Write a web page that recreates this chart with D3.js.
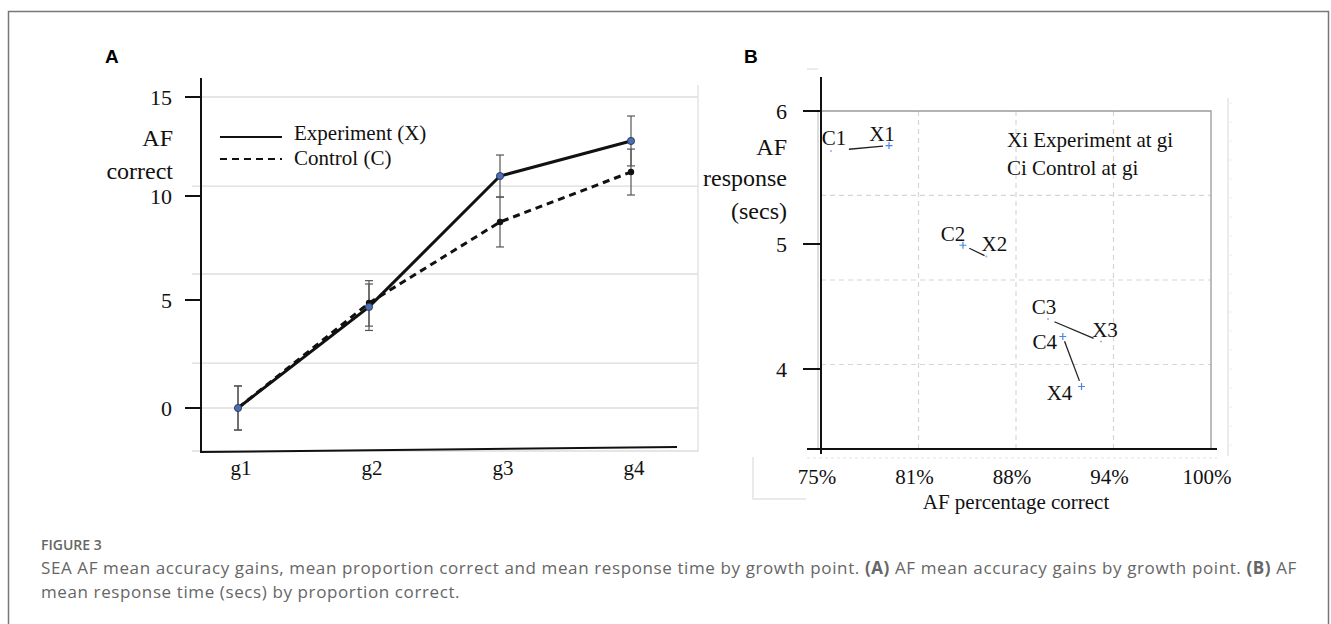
<!DOCTYPE html>
<html>
<head>
<meta charset="utf-8">
<script src="https://cdn.jsdelivr.net/npm/d3@7"></script>
<style>
  body { margin: 0; background: #fff; }
  .serif { font-family: "Liberation Serif", "Times New Roman", serif; fill: #111; }
</style>
</head>
<body>
<script>
// ---- panel A data: AF correct by growth point ----
var growthPoints = ["g1", "g2", "g3", "g4"];
var expMeans  = [0, 4.68, 11.01, 12.78];
var ctrlMeans = [0, 4.86, 8.75, 11.21];
var expErr    = [1.02, 1.09, 1.06, 1.26];
var ctrlErr   = [1.02, 1.07, 1.2, 1.16];
var yTicksA   = [0, 5, 10, 15];
var gridA     = [15, 10.5, 6.25, 2.08, 0, -1.99];

// ---- panel B data: response time by percentage correct ----
var ctrlPct  = [0.7564, 0.841, 0.8955, 0.905];
var ctrlSecs = [5.70, 4.99, 4.40, 4.26];
var expPct   = [0.7936, 0.856, 0.9295, 0.917];
var expSecs  = [5.74, 4.90, 4.22, 3.86];
var ctrlNames = ["C1", "C2", "C3", "C4"];
var expNames  = ["X1", "X2", "X3", "X4"];
var ctrlShape = ["dot", "plus", "dot", "plus"];
var expShape  = ["plus", "dot", "dot", "plus"];
var xTicksB = [0.75, 0.8125, 0.875, 0.9375, 1];
var xTickLabelsB = ["75%", "81%", "88%", "94%", "100%"];
var yTicksB = [4, 5, 6];
var gridYB = [5.365, 4.712, 4.036];

var width = 1331, height = 624;

var svg = d3.select("body").append("svg")
    .attr("width", width)
    .attr("height", height);

// outer frame
svg.append("path")
    .attr("d", "M8.5,630 V11.5 H1328.5 V630")
    .attr("fill", "none")
    .attr("stroke", "#777")
    .attr("stroke-width", 1.5);

// ================= PANEL A =================
var xA = d3.scalePoint().domain(growthPoints).range([238, 631]);
// the original axis is not evenly spaced, so map each tick to its own position
var yA = d3.scaleLinear().domain([0, 5, 10, 15]).range([408, 300, 196, 97]);

var gA = svg.append("g");

// light gridlines
gA.selectAll(".gridA")
    .data(gridA)
  .enter().append("line")
    .attr("x1", 192).attr("x2", 698)
    .attr("y1", function(d) { return yA(d); })
    .attr("y2", function(d) { return yA(d); })
    .attr("stroke", "#dcdcdc")
    .attr("stroke-width", 1.3);
gA.append("line")
    .attr("x1", 698).attr("x2", 698).attr("y1", 85).attr("y2", 452)
    .attr("stroke", "#e0e0e0").attr("stroke-width", 1.3);

// axes
gA.append("line")
    .attr("x1", 201).attr("x2", 201).attr("y1", 78).attr("y2", 452)
    .attr("stroke", "#111").attr("stroke-width", 2);
gA.append("line")
    .attr("x1", 200).attr("x2", 677).attr("y1", 452).attr("y2", 447)
    .attr("stroke", "#111").attr("stroke-width", 2);

gA.selectAll(".tickA")
    .data(yTicksA)
  .enter().append("line")
    .attr("x1", 185).attr("x2", 201)
    .attr("y1", function(d) { return yA(d); })
    .attr("y2", function(d) { return yA(d); })
    .attr("stroke", "#111").attr("stroke-width", 2);

gA.selectAll(".tickLabelA")
    .data(yTicksA)
  .enter().append("text")
    .attr("class", "serif")
    .attr("x", 172)
    .attr("y", function(d) { return yA(d); })
    .attr("dy", "0.35em")
    .attr("text-anchor", "end")
    .style("font-size", "22px")
    .text(function(d) { return d; });

gA.selectAll(".xLabelA")
    .data(growthPoints)
  .enter().append("text")
    .attr("class", "serif")
    .attr("x", function(d) { return xA(d) + 3; })
    .attr("y", 468)
    .attr("dy", "0.35em")
    .attr("text-anchor", "middle")
    .style("font-size", "21px")
    .text(function(d) { return d; });

// y title
gA.append("text").attr("class", "serif")
    .attr("x", 173).attr("y", 138).attr("dy", "0.35em")
    .attr("text-anchor", "end").style("font-size", "24px").text("AF");
gA.append("text").attr("class", "serif")
    .attr("x", 173).attr("y", 171).attr("dy", "0.35em")
    .attr("text-anchor", "end").style("font-size", "24px").text("correct");

// legend
gA.append("line").attr("x1", 220).attr("x2", 282).attr("y1", 137).attr("y2", 137)
    .attr("stroke", "#111").attr("stroke-width", 2.2);
gA.append("line").attr("x1", 220).attr("x2", 282).attr("y1", 159).attr("y2", 159)
    .attr("stroke", "#111").attr("stroke-width", 2.2).attr("stroke-dasharray", "7,5");
gA.append("text").attr("class", "serif")
    .attr("x", 294).attr("y", 133).attr("dy", "0.35em")
    .style("font-size", "21px").text("Experiment (X)");
gA.append("text").attr("class", "serif")
    .attr("x", 294).attr("y", 158).attr("dy", "0.35em")
    .style("font-size", "21px").text("Control (C)");

// error bars
function errorBars(means, errs) {
    var bars = gA.append("g").selectAll("g")
        .data(growthPoints)
      .enter().append("g")
        .attr("stroke", "#555").attr("stroke-width", 1.2);
    bars.append("line")
        .attr("x1", function(d) { return xA(d); })
        .attr("x2", function(d) { return xA(d); })
        .attr("y1", function(d, i) { return yA(means[i] + errs[i]); })
        .attr("y2", function(d, i) { return yA(means[i] - errs[i]); });
    [1, -1].forEach(function(s) {
        bars.append("line")
            .attr("x1", function(d) { return xA(d) - 4; })
            .attr("x2", function(d) { return xA(d) + 4; })
            .attr("y1", function(d, i) { return yA(means[i] + s * errs[i]); })
            .attr("y2", function(d, i) { return yA(means[i] + s * errs[i]); });
    });
}
errorBars(ctrlMeans, ctrlErr);
errorBars(expMeans, expErr);

var lineA = d3.line()
    .x(function(d, i) { return xA(growthPoints[i]); })
    .y(function(d) { return yA(d); });

gA.append("path")
    .datum(ctrlMeans)
    .attr("d", lineA)
    .attr("fill", "none")
    .attr("stroke", "#111")
    .attr("stroke-width", 3)
    .attr("stroke-dasharray", "7,5");
gA.append("path")
    .datum(expMeans)
    .attr("d", lineA)
    .attr("fill", "none")
    .attr("stroke", "#111")
    .attr("stroke-width", 3);

gA.selectAll(".ctrlDot")
    .data(ctrlMeans)
  .enter().append("circle")
    .attr("cx", function(d, i) { return xA(growthPoints[i]); })
    .attr("cy", function(d) { return yA(d); })
    .attr("r", 3.2)
    .attr("fill", "#111");
gA.selectAll(".expDot")
    .data(expMeans)
  .enter().append("circle")
    .attr("cx", function(d, i) { return xA(growthPoints[i]); })
    .attr("cy", function(d) { return yA(d); })
    .attr("r", 3.6)
    .attr("fill", "#4d6fae")
    .attr("stroke", "#1d2f55")
    .attr("stroke-width", 0.8);

// panel letter
svg.append("text")
    .attr("x", 105).attr("y", 63)
    .style("font-family", "'Liberation Sans', Arial, sans-serif")
    .style("font-weight", "bold").style("font-size", "19px")
    .text("A");

// ================= PANEL B =================
var xB = d3.scaleLinear().domain([0.75, 1]).range([821, 1211]);
var yB = d3.scaleLinear().domain([4, 5, 6]).range([369, 244, 111]);
var yBottom = yB.invert(449);

var gB = svg.append("g");

// faint background marks
var faint = "#e4e4e4";
gB.append("line").attr("x1", 807).attr("x2", 818).attr("y1", 69).attr("y2", 69)
    .attr("stroke", faint).attr("stroke-width", 1.5);
gB.append("line").attr("x1", 1228).attr("x2", 1228).attr("y1", 98).attr("y2", 456)
    .attr("stroke", faint).attr("stroke-width", 1.5);
gB.selectAll(".faintTick")
    .data(d3.range(0, 19))
  .enter().append("line")
    .attr("x1", 1228).attr("x2", 1232)
    .attr("y1", function(d) { return 103 + d * 19; })
    .attr("y2", function(d) { return 103 + d * 19; })
    .attr("stroke", "#eeeeee");
gB.append("line").attr("x1", 807).attr("x2", 1217).attr("y1", 458).attr("y2", 458)
    .attr("stroke", faint).attr("stroke-width", 1.2).attr("stroke-dasharray", "3,3");
gB.append("path").attr("d", "M753,457 V499 H806")
    .attr("fill", "none").attr("stroke", faint).attr("stroke-width", 1.5);

// dashed grid
gB.selectAll(".gridXB")
    .data(xTicksB.slice(1, 4))
  .enter().append("line")
    .attr("x1", function(d) { return xB(d); })
    .attr("x2", function(d) { return xB(d); })
    .attr("y1", yB(6)).attr("y2", yB(yBottom))
    .attr("stroke", "#d6d6d6").attr("stroke-width", 1.2)
    .attr("stroke-dasharray", "5,4");
gB.selectAll(".gridYB")
    .data(gridYB)
  .enter().append("line")
    .attr("x1", xB(0.75)).attr("x2", xB(1))
    .attr("y1", function(d) { return yB(d); })
    .attr("y2", function(d) { return yB(d); })
    .attr("stroke", "#d6d6d6").attr("stroke-width", 1.2)
    .attr("stroke-dasharray", "5,4");

// plot border (top/right)
gB.append("path")
    .attr("d", "M" + xB(0.75) + "," + yB(6) + " H" + xB(1) + " V" + yB(yBottom))
    .attr("fill", "none").attr("stroke", "#9a9a9a").attr("stroke-width", 1.3);
gB.append("line").attr("x1", 818).attr("x2", 818).attr("y1", yB(6)).attr("y2", 449)
    .attr("stroke", "#bbb").attr("stroke-width", 1);

// axes
gB.append("line").attr("x1", 821).attr("x2", 821).attr("y1", 77).attr("y2", 454)
    .attr("stroke", "#111").attr("stroke-width", 2);
gB.append("line").attr("x1", 807).attr("x2", 1217).attr("y1", 449).attr("y2", 449)
    .attr("stroke", "#111").attr("stroke-width", 2);

gB.selectAll(".tickB")
    .data(yTicksB)
  .enter().append("line")
    .attr("x1", 803).attr("x2", 821)
    .attr("y1", function(d) { return yB(d); })
    .attr("y2", function(d) { return yB(d); })
    .attr("stroke", "#111").attr("stroke-width", 2);
gB.selectAll(".tickLabelB")
    .data(yTicksB)
  .enter().append("text")
    .attr("class", "serif")
    .attr("x", 787)
    .attr("y", function(d) { return yB(d); })
    .attr("dy", "0.35em")
    .attr("text-anchor", "end")
    .style("font-size", "22px")
    .text(function(d) { return d; });

gB.selectAll(".xLabelB")
    .data(xTicksB)
  .enter().append("text")
    .attr("class", "serif")
    .attr("x", function(d) { return xB(d) - 4; })
    .attr("y", 477)
    .attr("dy", "0.35em")
    .attr("text-anchor", "middle")
    .style("font-size", "21px")
    .text(function(d, i) { return xTickLabelsB[i]; });

gB.append("text").attr("class", "serif")
    .attr("x", 1016).attr("y", 502).attr("dy", "0.35em")
    .attr("text-anchor", "middle").style("font-size", "21px")
    .text("AF percentage correct");

[["AF", 147], ["response", 178], ["(secs)", 211]].forEach(function(t) {
    gB.append("text").attr("class", "serif")
        .attr("x", 787).attr("y", t[1]).attr("dy", "0.35em")
        .attr("text-anchor", "end").style("font-size", "24px")
        .text(t[0]);
});

// legend text
gB.append("text").attr("class", "serif")
    .attr("x", 1007).attr("y", 140).attr("dy", "0.35em")
    .style("font-size", "21px").text("Xi Experiment at gi");
gB.append("text").attr("class", "serif")
    .attr("x", 1007).attr("y", 168).attr("dy", "0.35em")
    .style("font-size", "21px").text("Ci Control at gi");

// connecting segments between Ci and Xi, trimmed at both ends
var trimStart = [18, 7, 7, 5];
var trimEnd = [6, 2, 8, 6];
gB.selectAll(".pairLine")
    .data(ctrlPct)
  .enter().append("line")
    .each(function(d, i) {
        var x1 = xB(ctrlPct[i]), y1 = yB(ctrlSecs[i]);
        var x2 = xB(expPct[i]), y2 = yB(expSecs[i]);
        var len = Math.hypot(x2 - x1, y2 - y1);
        var ux = (x2 - x1) / len, uy = (y2 - y1) / len;
        d3.select(this)
            .attr("x1", x1 + ux * trimStart[i]).attr("y1", y1 + uy * trimStart[i])
            .attr("x2", x2 - ux * trimEnd[i]).attr("y2", y2 - uy * trimEnd[i]);
    })
    .attr("stroke", "#222").attr("stroke-width", 1.3);

// markers
function drawMarkers(pcts, secs, shapes) {
    pcts.forEach(function(p, i) {
        var cx = xB(p), cy = yB(secs[i]);
        if (shapes[i] === "plus") {
            gB.append("path")
                .attr("d", "M" + (cx - 3.5) + "," + cy + "H" + (cx + 3.5) +
                           "M" + cx + "," + (cy - 3.5) + "V" + (cy + 3.5))
                .attr("stroke", "#4a86e8").attr("stroke-width", 1.2);
        } else {
            gB.append("circle").attr("cx", cx).attr("cy", cy).attr("r", 1)
                .attr("fill", "#8fb2ee");
        }
    });
}
drawMarkers(ctrlPct, ctrlSecs, ctrlShape);
drawMarkers(expPct, expSecs, expShape);

// point labels
var ctrlLabelOff = [[3, -13], [-10, -12], [-4, -12], [-18, 5]];
var expLabelOff = [[-7, -12], [8, -13], [4, -12], [-22, 6]];
function drawLabels(pcts, secs, names, off) {
    gB.selectAll(null)
        .data(names)
      .enter().append("text")
        .attr("class", "serif")
        .attr("x", function(d, i) { return xB(pcts[i]) + off[i][0]; })
        .attr("y", function(d, i) { return yB(secs[i]) + off[i][1]; })
        .attr("dy", "0.35em")
        .attr("text-anchor", "middle")
        .style("font-size", "21px")
        .text(function(d) { return d; });
}
drawLabels(ctrlPct, ctrlSecs, ctrlNames, ctrlLabelOff);
drawLabels(expPct, expSecs, expNames, expLabelOff);

svg.append("text")
    .attr("x", 744).attr("y", 63)
    .style("font-family", "'Liberation Sans', Arial, sans-serif")
    .style("font-weight", "bold").style("font-size", "19px")
    .text("B");

// ================= CAPTION =================
var capFont = "'Open Sans', 'Noto Sans', sans-serif";
svg.append("text")
    .attr("x", 41).attr("y", 545).attr("dy", "0.35em")
    .style("font-family", capFont).style("font-weight", 600)
    .style("font-size", "14px").style("fill", "#666")
    .text("FIGURE 3");

var line1 = svg.append("text")
    .attr("x", 41).attr("y", 568).attr("dy", "0.35em")
    .style("font-family", capFont).style("font-size", "17px").style("fill", "#666");
line1.append("tspan").text("SEA AF mean accuracy gains, mean proportion correct and mean response time by growth point. ");
line1.append("tspan").style("font-weight", "bold").text("(A)");
line1.append("tspan").text(" AF mean accuracy gains by growth point. ");
line1.append("tspan").style("font-weight", "bold").text("(B)");
line1.append("tspan").text(" AF");

var line2 = svg.append("text")
    .attr("x", 41).attr("y", 592).attr("dy", "0.35em")
    .style("font-family", capFont).style("font-size", "17px").style("fill", "#666")
    .text("mean response time (secs) by proportion correct.");

// stretch caption letter spacing so the first line spans the same width as the original
var w = line1.node().getComputedTextLength();
var nChars = line1.text().length;
var ls = Math.max(0, (1256 - w) / nChars);
line1.style("letter-spacing", ls + "px");
line2.style("letter-spacing", ls + "px");
</script>
</body>
</html>
